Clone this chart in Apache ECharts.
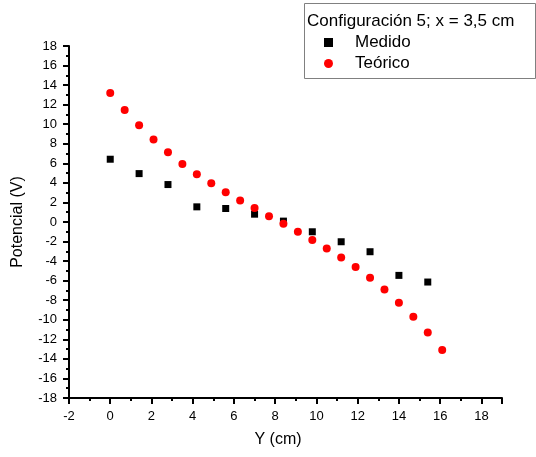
<!DOCTYPE html>
<html>
<head>
<meta charset="utf-8">
<script src="https://cdn.jsdelivr.net/npm/echarts@6/dist/echarts.min.js"></script>
<style>
  html, body { margin: 0; padding: 0; background: #fff; }
  #chart { width: 536px; height: 457px; }
</style>
</head>
<body>
<div id="chart"></div>
<script>
// ---- data ----
const medidoX = [0, 1.4, 2.8, 4.2, 5.6, 7.0, 8.4, 9.8, 11.2, 12.6, 14.0, 15.4];
const medidoY = [6.42, 4.95, 3.83, 1.55, 1.38, 0.8, 0.09, -1.0, -2.02, -3.04, -5.46, -6.14];
const teoricoX = [0, 0.7, 1.4, 2.1, 2.8, 3.5, 4.2, 4.9, 5.6, 6.3, 7.0, 7.7, 8.4, 9.1, 9.8, 10.5, 11.2, 11.9, 12.6, 13.3, 14.0, 14.7, 15.4, 16.1];
const teoricoY = [13.2, 11.46, 9.9, 8.43, 7.14, 5.94, 4.89, 3.97, 3.03, 2.2, 1.42, 0.6, -0.18, -1.0, -1.85, -2.71, -3.63, -4.6, -5.7, -6.9, -8.25, -9.68, -11.3, -13.08];
const seriesNames = ['Medido', 'Teórico'];
const legendTitle = 'Configuración 5; x = 3,5 cm';
const xAxisTitle = 'Y (cm)';
const yAxisTitle = 'Potencial (V)';

const FONT = '"Liberation Sans", Arial, sans-serif';
const pairs = (xs, ys) => xs.map((x, i) => [x, ys[i]]);

const axisCommon = {
  type: 'value',
  axisLine: { show: true, onZero: false, lineStyle: { color: '#000', width: 2 } },
  axisTick: { show: true, inside: false, length: 6, lineStyle: { color: '#000', width: 2 } },
  minorTick: { show: true, splitNumber: 2, length: 3, lineStyle: { color: '#000', width: 2 } },
  splitLine: { show: false },
  axisLabel: { color: '#000', fontSize: 13, fontFamily: FONT, margin: 12 },
  nameTextStyle: { color: '#000', fontSize: 16, fontFamily: FONT }
};

const chart = echarts.init(document.getElementById('chart'), null, { renderer: 'canvas' });
chart.setOption({
  animation: false,
  backgroundColor: '#fff',
  grid: { left: 69, right: 34, top: 46, bottom: 59, containLabel: false },
  xAxis: Object.assign({}, axisCommon, {
    min: -2, max: 19, interval: 2,
    axisLabel: Object.assign({}, axisCommon.axisLabel, { showMaxLabel: false }),
    name: xAxisTitle, nameLocation: 'middle', nameGap: 34,
    nameTextStyle: Object.assign({}, axisCommon.nameTextStyle, { padding: [0, 15, 0, 0] })
  }),
  yAxis: Object.assign({}, axisCommon, {
    min: -18, max: 18, interval: 2,
    name: yAxisTitle, nameLocation: 'middle', nameGap: 43
  }),
  legend: {
    orient: 'vertical',
    left: 324, top: 34,
    padding: 0,
    itemWidth: 9, itemHeight: 9,
    itemGap: 4,
    textStyle: { color: '#000', fontSize: 17, fontFamily: FONT, lineHeight: 17, padding: [0, 0, 0, 17] },
    data: [
      { name: seriesNames[0], icon: 'rect' },
      { name: seriesNames[1], icon: 'circle' }
    ]
  },
  graphic: [
    { type: 'rect', shape: { x: 304.5, y: 3.5, width: 231, height: 75 },
      style: { fill: 'none', stroke: '#808080', lineWidth: 1 }, z: 10 },
    { type: 'text', x: 307, y: 21, z: 11,
      style: { text: legendTitle, fill: '#000', font: '17px ' + FONT, textVerticalAlign: 'middle', verticalAlign: 'middle' } }
  ],
  series: [
    { name: seriesNames[0], type: 'scatter', symbol: 'rect', symbolSize: 7,
      itemStyle: { color: '#000', opacity: 1 }, data: pairs(medidoX, medidoY), z: 2 },
    { name: seriesNames[1], type: 'scatter', symbol: 'circle', symbolSize: 8,
      itemStyle: { color: '#ff0000', opacity: 1 }, data: pairs(teoricoX, teoricoY), z: 3 }
  ]
});
</script>
</body>
</html>
